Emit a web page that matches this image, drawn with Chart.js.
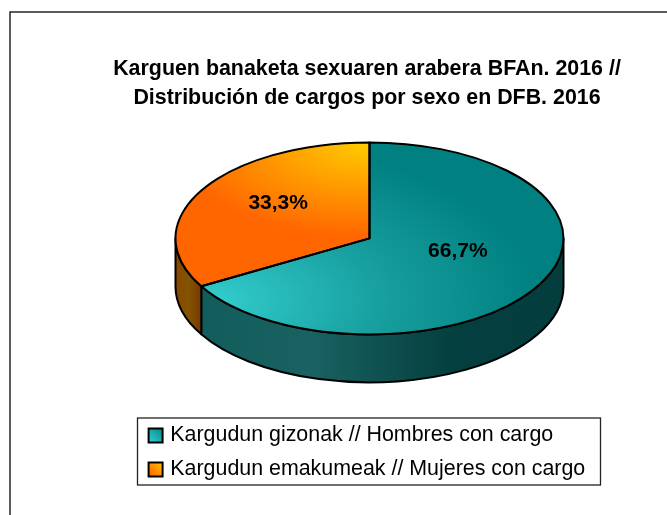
<!DOCTYPE html>
<html>
<head>
<meta charset="utf-8">
<title>Karguen banaketa</title>
<script src="https://cdn.jsdelivr.net/npm/chart.js@4/dist/chart.umd.min.js"></script>
<style>
  html, body { margin: 0; padding: 0; background: #fff; overflow: hidden; }
  canvas { display: block; }
</style>
</head>
<body>
<canvas id="pie" width="667" height="515"></canvas>
<script>
// Data
const categories = ['Kargudun gizonak // Hombres con cargo', 'Kargudun emakumeak // Mujeres con cargo'];
const shares = [66.7, 33.3];
const shareLabels = ['66,7%', '33,3%'];
const titleLines = ['Karguen banaketa sexuaren arabera BFAn. 2016 //', 'Distribución de cargos por sexo en DFB. 2016'];

const FONT = '"Liberation Sans", Arial, sans-serif';
const SQUASH = 96 / 194;   // vertical flattening of the pie
const DEPTH = 48;          // height of the side wall
const CY = 238.5;

const canvas = document.getElementById('pie');
const ctx = canvas.getContext('2d');

// face gradients live in the flattened space, so y is stretched back
function faceY(y) { return CY + (y - CY) / SQUASH; }

const tealFace = ctx.createRadialGradient(215, faceY(300), 0, 215, faceY(300), 325);
tealFace.addColorStop(0, '#33cccc');
tealFace.addColorStop(0.55, '#169c9c');
tealFace.addColorStop(1, '#008080');

const orangeFace = ctx.createRadialGradient(366, faceY(143), 0, 366, faceY(143), 190);
orangeFace.addColorStop(0, '#ffcc00');
orangeFace.addColorStop(0.5, '#ff9900');
orangeFace.addColorStop(1, '#ff6600');

const tealSide = ctx.createLinearGradient(202, 0, 560, 0);
tealSide.addColorStop(0, '#125c5c');
tealSide.addColorStop(0.3, '#1a6262');
tealSide.addColorStop(0.7, '#043f3f');
tealSide.addColorStop(1, '#053d3d');

const orangeSide = ctx.createLinearGradient(175, 0, 202, 0);
orangeSide.addColorStop(0, '#8a4500');
orangeSide.addColorStop(0.5, '#825500');
orangeSide.addColorStop(1, '#7a3600');

const sideFills = [tealSide, orangeSide];

const swatchTeal = ctx.createLinearGradient(149, 441, 163, 427);
swatchTeal.addColorStop(0, '#33cccc');
swatchTeal.addColorStop(1, '#008080');
const swatchOrange = ctx.createLinearGradient(149, 475, 163, 461);
swatchOrange.addColorStop(0, '#ff6600');
swatchOrange.addColorStop(1, '#ffcc00');
const swatches = [swatchTeal, swatchOrange];

// flatten the arcs, add the side wall underneath and the outlines on top
const pie3d = {
    id: 'pie3d',
    beforeDraw(chart) {
        const c = chart.ctx;
        c.save();
        c.fillStyle = '#fff';
        c.fillRect(0, 0, chart.width, chart.height);
        c.strokeStyle = '#333';
        c.lineWidth = 1.6;
        c.strokeRect(10, 12, 700, 600);
        c.strokeStyle = '#222';
        c.lineWidth = 1.3;
        c.strokeRect(137.5, 418, 463, 67);
        c.restore();
    },
    afterLayout(chart) {
        chart.titleBlock.left = 100;
        chart.titleBlock.right = 634;
        chart.titleBlock.top = 55;
        chart.titleBlock.bottom = 113;
        chart.legend.left = 139;
        chart.legend.right = 606;
        chart.legend.top = 412.3;
    },
    beforeDatasetsDraw(chart) {
        const c = chart.ctx;
        const arcs = chart.getDatasetMeta(0).data;
        c.save();
        arcs.forEach((arc, i) => {
            const rx = arc.outerRadius, ry = rx * SQUASH;
            const a = Math.max(arc.startAngle, 0), b = Math.min(arc.endAngle, Math.PI);
            if (b <= a) return;
            c.beginPath();
            c.ellipse(arc.x, arc.y, rx, ry, 0, a, b);
            c.ellipse(arc.x, arc.y + DEPTH, rx, ry, 0, b, a, true);
            c.closePath();
            c.fillStyle = sideFills[i];
            c.fill();
            c.lineWidth = 2;
            c.strokeStyle = '#000';
            c.lineJoin = 'round';
            c.stroke();
        });
        c.restore();
        c.save();
        const first = arcs[0];
        c.translate(first.x, first.y);
        c.scale(1, SQUASH);
        c.translate(-first.x, -first.y);
    },
    afterDatasetsDraw(chart) {
        const c = chart.ctx;
        c.restore();
        const arcs = chart.getDatasetMeta(0).data;
        c.save();
        c.lineWidth = 2;
        c.strokeStyle = '#000';
        c.lineJoin = 'round';
        arcs.forEach(arc => {
            const rx = arc.outerRadius, ry = rx * SQUASH;
            c.beginPath();
            c.moveTo(arc.x, arc.y);
            c.ellipse(arc.x, arc.y, rx, ry, 0, arc.startAngle, arc.endAngle);
            c.closePath();
            c.stroke();
        });
        c.fillStyle = '#000';
        c.font = 'bold 21px ' + FONT;
        c.textAlign = 'center';
        c.textBaseline = 'middle';
        arcs.forEach((arc, i) => {
            const mid = (arc.startAngle + arc.endAngle) / 2;
            const rx = arc.outerRadius, ry = rx * SQUASH;
            c.fillText(shareLabels[i], arc.x + Math.cos(mid) * rx * 0.535 - 1.5, arc.y + Math.sin(mid) * ry * 0.505 - 11.25);
        });
        c.restore();
    }
};

new Chart(ctx, {
    type: 'pie',
    data: {
        labels: categories,
        datasets: [{
            data: shares,
            backgroundColor: [tealFace, orangeFace],
            borderWidth: 0
        }]
    },
    options: {
        responsive: false,
        animation: false,
        layout: { padding: { left: 175.5, right: 103.5, top: -15, bottom: 3.2 } },
        plugins: {
            tooltip: { enabled: false },
            title: {
                display: true,
                text: titleLines,
                color: '#000',
                fullSize: false,
                padding: 0,
                font: { family: FONT, size: 21.4, weight: 'bold', lineHeight: 1.355 }
            },
            legend: {
                display: true,
                position: 'bottom',
                align: 'start',
                fullSize: false,
                maxWidth: 471,
                labels: {
                    color: '#000',
                    font: { family: FONT, size: 21.4 },
                    usePointStyle: true,
                    boxWidth: 8,
                    boxHeight: 14,
                    padding: 12.6,
                    generateLabels(chart) {
                        return chart.data.labels.map((text, i) => ({
                            text: text,
                            fillStyle: swatches[i],
                            strokeStyle: '#000',
                            lineWidth: 2,
                            pointStyle: 'rect',
                            index: i
                        }));
                    }
                }
            }
        }
    },
    plugins: [pie3d]
});
</script>
</body>
</html>
